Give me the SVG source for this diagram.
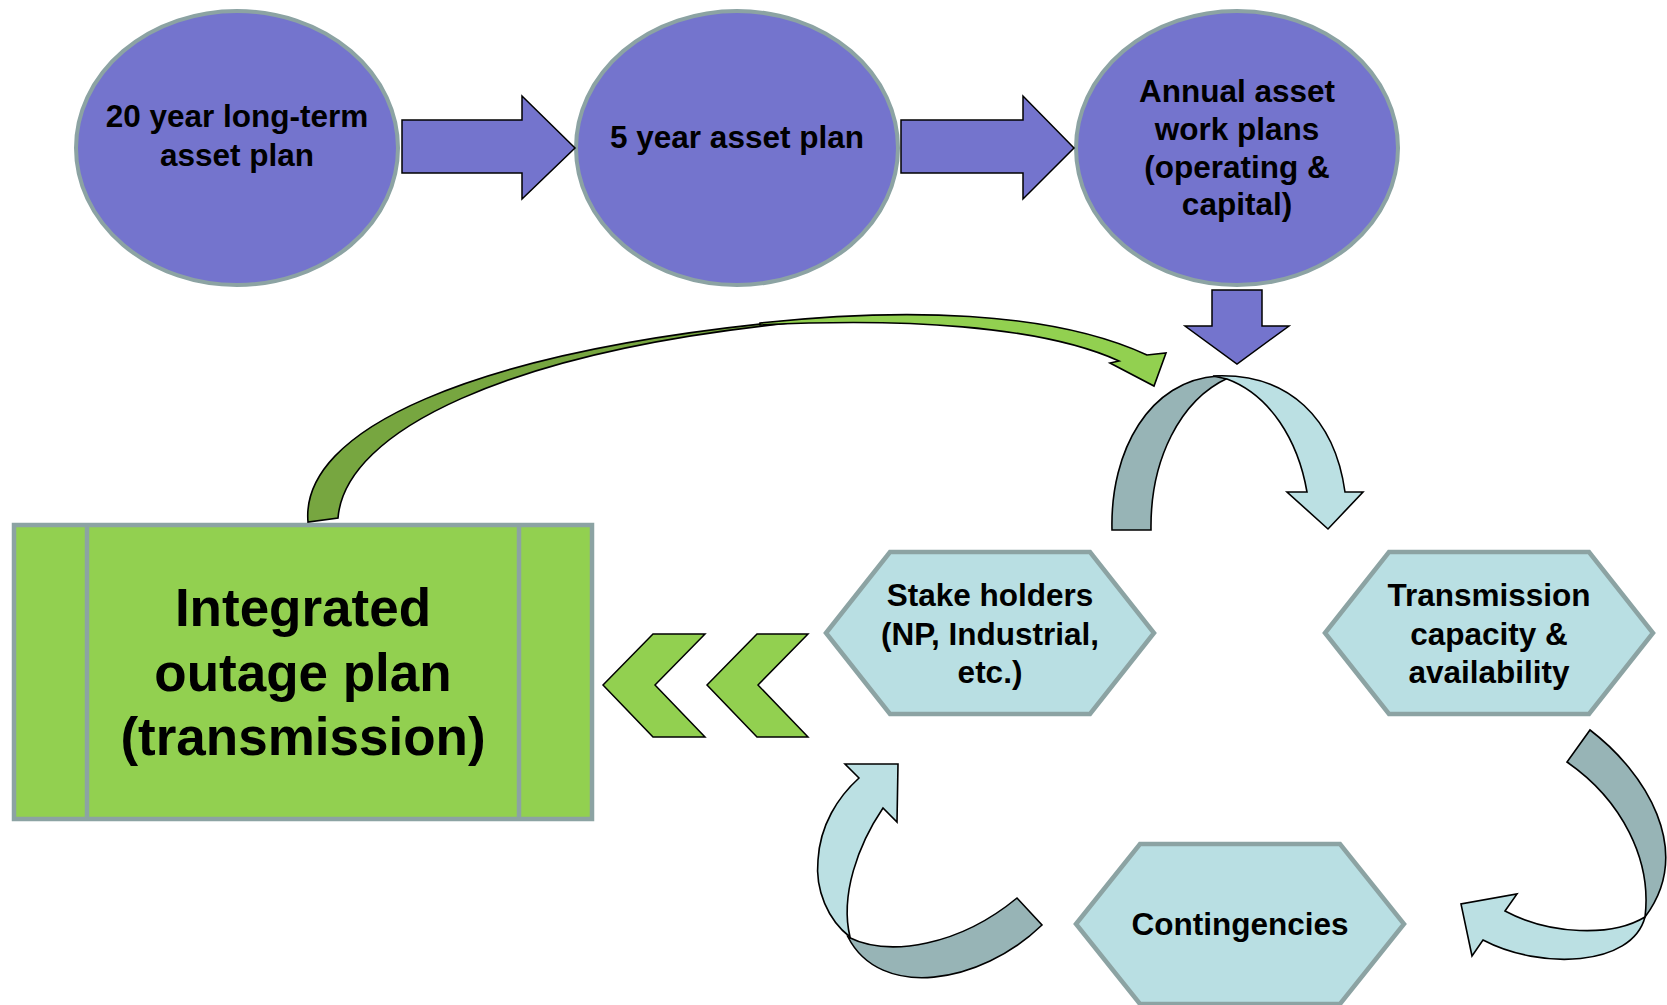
<svg xmlns="http://www.w3.org/2000/svg" width="1667" height="1005" viewBox="0 0 1667 1005">
  <style>
    .plan { fill: #7474cd; stroke: #8ca3a3; stroke-width: 4; }
    .hex { fill: #b9dfe3; stroke: #8ca3a3; stroke-width: 4.5; stroke-linejoin: miter; }
    .box { fill: #92d050; stroke: #8ca3a3; stroke-width: 4.5; }
    .sep { stroke: #8ca3a3; stroke-width: 4.5; }
    .blockArrow { fill: #7474cd; stroke: #000; stroke-width: 1.5; stroke-linejoin: miter; }
    .chev { fill: #92d050; stroke: #000; stroke-width: 1.5; stroke-linejoin: miter; }
    .bandFront { fill: #bbe0e3; stroke: #000; stroke-width: 1.6; stroke-linejoin: miter; }
    .bandBack { fill: #97b4b6; stroke: #000; stroke-width: 1.6; stroke-linejoin: miter; }
    .greenBack { fill: #77a640; stroke: #000; stroke-width: 1.6; }
    .greenFront { fill: #92d050; stroke: #000; stroke-width: 1.6; stroke-linejoin: miter; }
    text { font-family: "Liberation Sans", Arial, sans-serif; font-weight: bold; fill: #000; text-anchor: middle; }
    .lbl { font-size: 31.5px; }
    .big { font-size: 53px; }
  </style>

  <!-- planning horizon ellipses -->
  <g id="plan-20yr">
    <ellipse class="plan" cx="237" cy="148" rx="161" ry="137"/>
    <text class="lbl" x="237" y="127">20 year long-term</text>
    <text class="lbl" x="237" y="166">asset plan</text>
  </g>
  <g id="plan-5yr">
    <ellipse class="plan" cx="737" cy="148" rx="161" ry="137"/>
    <text class="lbl" x="737" y="148">5 year asset plan</text>
  </g>
  <g id="plan-annual">
    <ellipse class="plan" cx="1237" cy="148" rx="161" ry="137"/>
    <text class="lbl" x="1237" y="102">Annual asset</text>
    <text class="lbl" x="1237" y="140">work plans</text>
    <text class="lbl" x="1237" y="178">(operating &amp;</text>
    <text class="lbl" x="1237" y="215">capital)</text>
  </g>

  <!-- integrated outage plan box -->
  <g id="outage-plan">
    <rect class="box" x="14" y="525" width="578" height="294"/>
    <line class="sep" x1="87" y1="525" x2="87" y2="819"/>
    <line class="sep" x1="519" y1="525" x2="519" y2="819"/>
    <text class="big" x="303" y="626">Integrated</text>
    <text class="big" x="303" y="691">outage plan</text>
    <text class="big" x="303" y="755">(transmission)</text>
  </g>

  <!-- cycle hexagons -->
  <g id="stakeholders">
    <polygon class="hex" points="826,633 890,552 1090,552 1154,633 1090,714 890,714"/>
    <text class="lbl" x="990" y="606">Stake holders</text>
    <text class="lbl" x="990" y="645">(NP, Industrial,</text>
    <text class="lbl" x="990" y="683">etc.)</text>
  </g>
  <g id="transmission">
    <polygon class="hex" points="1325,633 1389,552 1589,552 1653,633 1589,714 1389,714"/>
    <text class="lbl" x="1489" y="606">Transmission</text>
    <text class="lbl" x="1489" y="645">capacity &amp;</text>
    <text class="lbl" x="1489" y="683">availability</text>
  </g>
  <g id="contingencies">
    <polygon class="hex" points="1076,924 1140,844 1340,844 1404,924 1340,1004 1140,1004"/>
    <text class="lbl" x="1240" y="935">Contingencies</text>
  </g>

  <!-- connectors -->
  <g id="connectors">
    <!-- block arrows between plans -->
    <polygon class="blockArrow" points="402,120 522,120 522,96 575,148 522,199 522,173 402,173"/>
    <polygon class="blockArrow" points="901,120 1023,120 1023,96 1074,148 1023,199 1023,173 901,173"/>
    <polygon class="blockArrow" points="1212,290 1262,290 1262,326 1289,326 1237,364 1185,326 1212,326"/>

    <!-- double chevron into the outage plan -->
    <polygon class="chev" points="603,685 653,634 705,634 655,685 705,737 653,737"/>
    <polygon class="chev" points="707,685 757,634 808,634 758,685 808,737 757,737"/>

    <!-- feedback arrow from outage plan to the cycle -->
    <path class="greenBack" d="M308,522 C300,430 470,352 790,321 L790,323 C510,352 345,430 338,518 Z"/>
    <path class="greenFront" d="M760,323 C900,308 1050,310 1147,355 L1166,353 L1154,386 L1110,363 L1119,361 C1040,325 900,318 760,325 Z"/>

    <!-- top circular arrow -->
    <path class="bandBack" d="M1112,530 C1110,450 1150,380 1218,376 L1228,378 C1180,400 1150,460 1151,530 Z"/>
    <path class="bandFront" d="M1213,376 C1290,372 1335,420 1345,492 L1363,492 L1328,529 L1287,492 L1307,492 C1298,440 1270,395 1227,379 Z"/>

    <!-- right circular arrow -->
    <path class="bandBack" d="M1590,730 C1645,772 1695,850 1645,917 C1652,860 1622,800 1567,762 Z"/>
    <path class="bandFront" d="M1645,917 C1632,967 1540,970 1483,940 L1472,956 L1461,904 L1517,894 L1505,911 C1550,935 1612,937 1645,917 Z"/>

    <!-- bottom-left circular arrow -->
    <path class="bandBack" d="M848,937 C890,958 960,945 1017,898 L1042,925 C980,985 880,1000 848,937 Z"/>
    <path class="bandFront" d="M859,778 L845,764 L898,764 L897,822 L883,808 C858,845 840,895 850,937 C828,920 815,890 818,860 C820,825 838,797 859,778 Z"/>
  </g>
</svg>
